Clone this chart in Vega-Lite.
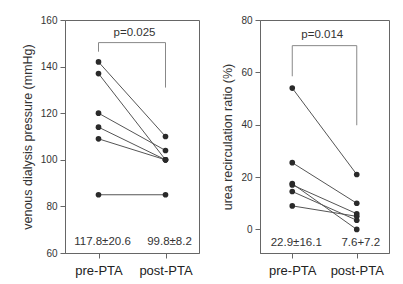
{
  "$schema": "https://vega.github.io/schema/vega-lite/v6.json",
  "padding": {"left": 20, "top": 14, "right": 5, "bottom": 0},
  "background": "white",
  "config": {
    "font": "Liberation Sans",
    "view": {"stroke": "#666", "strokeWidth": 1},
    "axis": {"grid": false, "domainColor": "#666", "tickColor": "#666", "labelColor": "#333", "titleColor": "#333", "titleFontWeight": "normal"},
    "concat": {"spacing": 21}
  },
  "datasets": {
    "left": [
      {"id": 1, "phase": "pre-PTA", "value": 142}, {"id": 1, "phase": "post-PTA", "value": 110},
      {"id": 2, "phase": "pre-PTA", "value": 137}, {"id": 2, "phase": "post-PTA", "value": 100},
      {"id": 3, "phase": "pre-PTA", "value": 120}, {"id": 3, "phase": "post-PTA", "value": 104},
      {"id": 4, "phase": "pre-PTA", "value": 114}, {"id": 4, "phase": "post-PTA", "value": 100},
      {"id": 5, "phase": "pre-PTA", "value": 109}, {"id": 5, "phase": "post-PTA", "value": 100},
      {"id": 6, "phase": "pre-PTA", "value": 85}, {"id": 6, "phase": "post-PTA", "value": 85}
    ],
    "leftBracket": [
      {"ord": 1, "phase": "pre-PTA", "value": 146.4},
      {"ord": 2, "phase": "pre-PTA", "value": 150.3},
      {"ord": 3, "phase": "post-PTA", "value": 150.3},
      {"ord": 4, "phase": "post-PTA", "value": 131}
    ],
    "leftText": [
      {"phase": "pre-PTA", "value": 64.6, "label": "117.8±20.6"},
      {"phase": "post-PTA", "value": 64.6, "label": "99.8±8.2"}
    ],
    "leftP": [{"phase": "pre-PTA", "value": 154.4, "label": "p=0.025"}],
    "right": [
      {"id": 1, "phase": "pre-PTA", "value": 54}, {"id": 1, "phase": "post-PTA", "value": 21},
      {"id": 2, "phase": "pre-PTA", "value": 25.5}, {"id": 2, "phase": "post-PTA", "value": 10},
      {"id": 3, "phase": "pre-PTA", "value": 17.5}, {"id": 3, "phase": "post-PTA", "value": 0},
      {"id": 4, "phase": "pre-PTA", "value": 17}, {"id": 4, "phase": "post-PTA", "value": 6},
      {"id": 5, "phase": "pre-PTA", "value": 14.5}, {"id": 5, "phase": "post-PTA", "value": 3.5},
      {"id": 6, "phase": "pre-PTA", "value": 9}, {"id": 6, "phase": "post-PTA", "value": 5}
    ],
    "rightBracket": [
      {"ord": 1, "phase": "pre-PTA", "value": 58.5},
      {"ord": 2, "phase": "pre-PTA", "value": 70.2},
      {"ord": 3, "phase": "post-PTA", "value": 70.2},
      {"ord": 4, "phase": "post-PTA", "value": 39.8}
    ],
    "rightText": [
      {"phase": "pre-PTA", "value": -5.2, "label": "22.9±16.1"},
      {"phase": "post-PTA", "value": -5.2, "label": "7.6+7.2"}
    ],
    "rightP": [{"phase": "pre-PTA", "value": 74.3, "label": "p=0.014"}]
  },
  "hconcat": [
    {
      "width": 134,
      "height": 233,
      "encoding": {
        "x": {"field": "phase", "type": "ordinal", "sort": ["pre-PTA", "post-PTA"], "scale": {"type": "point", "padding": 0.5},
              "axis": {"title": null, "labelAngle": 0, "labelFontSize": 13, "labelPadding": 6, "tickSize": 5, "labelColor": "#222"}},
        "y": {"field": "value", "type": "quantitative", "scale": {"domain": [60, 160], "nice": false, "zero": false},
              "axis": {"title": "venous dialysis pressure (mmHg)", "values": [60, 80, 100, 120, 140, 160], "labelFontSize": 10, "tickSize": 5, "labelPadding": 3, "titleFontSize": 12.5, "titlePadding": 6}}
      },
      "layer": [
        {"data": {"name": "leftBracket"}, "mark": {"type": "line", "color": "#888", "strokeWidth": 1}, "encoding": {"order": {"field": "ord"}}},
        {"data": {"name": "left"}, "mark": {"type": "line", "color": "#555", "strokeWidth": 1}, "encoding": {"detail": {"field": "id"}}},
        {"data": {"name": "left"}, "mark": {"type": "point", "filled": true, "color": "#2a2a2a", "opacity": 1, "size": 32}},
        {"data": {"name": "leftText"}, "mark": {"type": "text", "fontSize": 11.5, "color": "#333", "dx": 4}, "encoding": {"text": {"field": "label"}}},
        {"data": {"name": "leftP"}, "mark": {"type": "text", "fontSize": 11.5, "color": "#333", "dx": 36}, "encoding": {"text": {"field": "label"}}}
      ]
    },
    {
      "width": 129,
      "height": 233,
      "encoding": {
        "x": {"field": "phase", "type": "ordinal", "sort": ["pre-PTA", "post-PTA"], "scale": {"type": "point", "padding": 0.5},
              "axis": {"title": null, "labelAngle": 0, "labelFontSize": 13, "labelPadding": 6, "tickSize": 5, "labelColor": "#222"}},
        "y": {"field": "value", "type": "quantitative", "scale": {"domain": [-9, 80], "nice": false, "zero": false},
              "axis": {"title": "urea recirculation ratio (%)", "values": [0, 20, 40, 60, 80], "labelFontSize": 10, "tickSize": 5, "labelPadding": 3, "titleFontSize": 12.5, "titlePadding": 6}}
      },
      "layer": [
        {"data": {"name": "rightBracket"}, "mark": {"type": "line", "color": "#888", "strokeWidth": 1}, "encoding": {"order": {"field": "ord"}}},
        {"data": {"name": "right"}, "mark": {"type": "line", "color": "#555", "strokeWidth": 1}, "encoding": {"detail": {"field": "id"}}},
        {"data": {"name": "right"}, "mark": {"type": "point", "filled": true, "color": "#2a2a2a", "opacity": 1, "size": 32}},
        {"data": {"name": "rightText"}, "mark": {"type": "text", "fontSize": 11.5, "color": "#333", "dx": 4}, "encoding": {"text": {"field": "label"}}},
        {"data": {"name": "rightP"}, "mark": {"type": "text", "fontSize": 11.5, "color": "#333", "dx": 30}, "encoding": {"text": {"field": "label"}}}
      ]
    }
  ]
}
